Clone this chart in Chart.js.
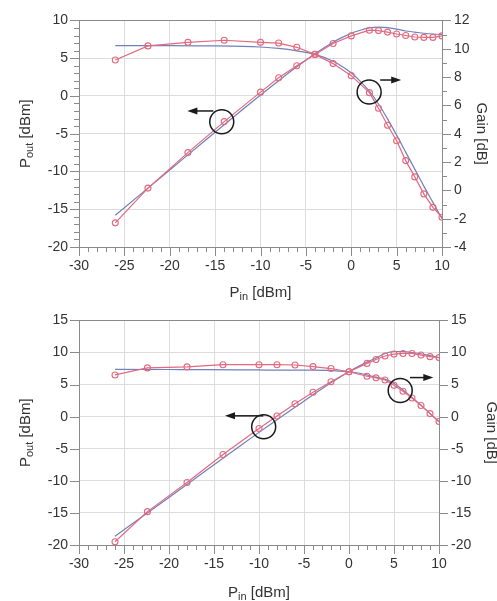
<!DOCTYPE html>
<html>
<head>
<meta charset="utf-8">
<script src="https://cdn.jsdelivr.net/npm/chart.js@4.4.0/dist/chart.umd.min.js"></script>
<style>
  html, body { margin: 0; padding: 0; background: #fff; }
  .panel { position: absolute; left: 0; width: 497px; }
  #top { top: 0; height: 300px; }
  #bot { top: 300px; height: 301px; }
</style>
</head>
<body>
<div class="panel" id="top"><canvas id="cTop"></canvas></div>
<div class="panel" id="bot"><canvas id="cBot"></canvas></div>
<script>
// ── Data ─────────────────────────────────────────────────────────────────────

const PIN_MEAS = [-26, -22.4, -18, -14, -10, -8, -6, -4, -2, 0, 2, 3, 4, 5, 6, 7, 8, 9, 10];
const PIN_SIM  = [-26, -20, -16, -12, -10, -8, -6, -4, -2, -1, 0, 1, 2, 3, 4, 5, 6, 7, 8, 9, 10];

// upper panel
const A_POUT_MEAS = [-16.8, -12.2, -7.5, -3.4, 0.5, 2.4, 4.0, 5.5, 6.95, 7.95, 8.7, 8.65, 8.45, 8.2, 8.0, 7.8, 7.75, 7.75, 7.95];
const A_GAIN_MEAS = [9.2, 10.2, 10.45, 10.6, 10.45, 10.4, 10.1, 9.6, 8.95, 8.1, 6.9, 5.8, 4.6, 3.5, 2.1, 0.95, -0.25, -1.2, -1.9];
const A_POUT_SIM  = [-15.8, -9.8, -5.8, -1.83, 0.12, 2.02, 3.85, 5.6, 7.12, 7.75, 8.3, 8.7, 9.0, 9.1, 9.05, 8.85, 8.6, 8.45, 8.3, 8.2, 8.15];
const A_GAIN_SIM  = [10.22, 10.22, 10.2, 10.17, 10.12, 10.02, 9.85, 9.6, 9.12, 8.75, 8.3, 7.7, 7.0, 6.1, 5.05, 3.9, 2.7, 1.5, 0.3, -0.85, -2.0];

// lower panel
const B_POUT_MEAS = [-19.5, -14.8, -10.25, -5.9, -1.85, 0.1, 2.0, 3.8, 5.45, 7.0, 8.3, 8.9, 9.45, 9.75, 9.85, 9.85, 9.6, 9.35, 9.2];
const B_GAIN_MEAS = [6.5, 7.6, 7.75, 8.1, 8.1, 8.1, 8.05, 7.8, 7.5, 7.0, 6.3, 6.05, 5.72, 4.9, 3.95, 2.9, 1.75, 0.48, -0.75];
const B_POUT_SIM  = [-18.62, -12.6, -8.5, -4.45, -2.45, -0.5, 1.45, 3.4, 5.3, 6.15, 7.0, 7.8, 8.5, 9.15, 9.85, 10.15, 10.15, 10.0, 9.8, 9.5, 9.2];
const B_GAIN_SIM  = [7.38, 7.35, 7.33, 7.3, 7.28, 7.25, 7.25, 7.25, 7.2, 7.1, 7.0, 6.8, 6.5, 6.15, 5.85, 5.15, 4.15, 3.0, 1.8, 0.5, -0.8];

// tick labels
const X_TICKS      = [-30, -25, -20, -15, -10, -5, 0, 5, 10];
const A_POUT_TICKS = [-20, -15, -10, -5, 0, 5, 10];
const A_GAIN_TICKS = [-4, -2, 0, 2, 4, 6, 8, 10, 12];
const B_TICKS      = [-20, -15, -10, -5, 0, 5, 10, 15];

// ── Styles ───────────────────────────────────────────────────────────────────

const RED   = '#e3697f';
const BLUE  = '#7180b8';
const GRID  = '#dcdcdc';
const AXIS  = '#8a8a8a';
const TEXT  = '#333';
const FONT  = "'Liberation Sans', Arial, sans-serif";
const MAJOR_LEN = 9;
const MINOR_LEN = 5;

// ── Plugin: frame, tick marks, axis titles, circle+arrow notes ───────────────

function drawParts(ctx, parts, x, y, rot) {
  ctx.save();
  ctx.translate(x, y);
  ctx.rotate(rot);
  let w = 0;
  for (const p of parts) { ctx.font = `${p.size}px ${FONT}`; w += ctx.measureText(p.t).width; }
  let cx = -w / 2;
  ctx.fillStyle = TEXT;
  ctx.textBaseline = 'alphabetic';
  ctx.textAlign = 'left';
  for (const p of parts) {
    ctx.font = `${p.size}px ${FONT}`;
    ctx.fillText(p.t, cx, p.dy || 0);
    cx += ctx.measureText(p.t).width;
  }
  ctx.restore();
}

const decor = {
  id: 'decor',
  afterDraw(chart, args, o) {
    const { ctx, chartArea: a, scales } = chart;
    ctx.save();
    ctx.strokeStyle = AXIS;
    ctx.lineWidth = 1;
    ctx.beginPath();
    ctx.moveTo(a.left, Math.round(a.top) + 0.5);
    ctx.lineTo(a.right, Math.round(a.top) + 0.5);
    ctx.stroke();

    for (const [id, minor, major, side] of o.marks) {
      const s = scales[id];
      for (let v = s.min; v <= s.max + 1e-9; v += minor) {
        const isMajor = Math.abs(v / major - Math.round(v / major)) < 1e-6;
        const len = isMajor ? MAJOR_LEN : MINOR_LEN;
        const p = Math.round(s.getPixelForValue(v)) + 0.5;
        ctx.beginPath();
        if (side === 'bottom') { ctx.moveTo(p, a.bottom); ctx.lineTo(p, a.bottom + len); }
        else if (side === 'left') { ctx.moveTo(a.left, p); ctx.lineTo(a.left - len, p); }
        else { ctx.moveTo(a.right, p); ctx.lineTo(a.right + len, p); }
        ctx.stroke();
      }
    }

    // circle + arrow annotations
    ctx.strokeStyle = '#1a1a1a';
    ctx.fillStyle = '#1a1a1a';
    ctx.lineWidth = 1.5;
    for (const n of o.notes) {
      const ys = scales[n.axis];
      const cx = scales.x.getPixelForValue(n.cx);
      const cy = ys.getPixelForValue(n.cy);
      ctx.beginPath();
      ctx.arc(cx, cy, 12, 0, Math.PI * 2);
      ctx.stroke();
      const x0 = scales.x.getPixelForValue(n.x0);
      const x1 = scales.x.getPixelForValue(n.x1);
      const ay = ys.getPixelForValue(n.ay);
      const dir = Math.sign(x1 - x0);
      ctx.beginPath();
      ctx.moveTo(x0, ay);
      ctx.lineTo(x1 - dir * 8, ay);
      ctx.stroke();
      ctx.beginPath();
      ctx.moveTo(x1, ay);
      ctx.lineTo(x1 - dir * 10, ay - 3.5);
      ctx.lineTo(x1 - dir * 10, ay + 3.5);
      ctx.closePath();
      ctx.fill();
    }
    ctx.restore();

    const midY = (a.top + a.bottom) / 2;
    const midX = (a.left + a.right) / 2;
    drawParts(ctx, [{ t: 'P', size: 15 }, { t: 'out', size: 11, dy: 3 }, { t: ' [dBm]', size: 15 }],
      o.yTitleX, midY, -Math.PI / 2);
    drawParts(ctx, [{ t: 'Gain [dB]', size: 15 }], o.y2TitleX, midY, Math.PI / 2);
    drawParts(ctx, [{ t: 'P', size: 15 }, { t: 'in', size: 11, dy: 3 }, { t: ' [dBm]', size: 15 }],
      midX, o.xTitleY, 0);
  },
};

// ── Chart builders ───────────────────────────────────────────────────────────

function pts(xs, ys) { return xs.map((x, i) => ({ x, y: ys[i] })); }

function measSet(ys, axis) {
  return {
    data: pts(PIN_MEAS, ys), yAxisID: axis, showLine: true,
    borderColor: RED, borderWidth: 1.2, tension: 0,
    pointRadius: 3, pointBorderWidth: 1.1, pointBorderColor: RED,
    pointBackgroundColor: 'rgba(255,255,255,0)', order: 1,
  };
}

function simSet(ys, axis) {
  return {
    data: pts(PIN_SIM, ys), yAxisID: axis, showLine: true,
    borderColor: BLUE, borderWidth: 1.2, pointRadius: 0,
    cubicInterpolationMode: 'monotone', order: 2,
  };
}

const tickFont = { family: FONT, size: 14 };
const setTicks = list => s => { s.ticks = list.map(v => ({ value: v })); };

function makeChart(id, cfg) {
  return new Chart(document.getElementById(id), {
    type: 'scatter',
    data: { datasets: cfg.datasets },
    plugins: [decor],
    options: {
      responsive: true,
      maintainAspectRatio: false,
      animation: false,
      events: [],
      layout: { padding: { top: cfg.top, left: 0, right: 0, bottom: 0 } },
      plugins: {
        legend: { display: false },
        tooltip: { enabled: false },
        decor: cfg.decor,
      },
      scales: {
        x: {
          type: 'linear', position: 'bottom', min: -30, max: 10,
          afterBuildTicks: setTicks(X_TICKS),
          ticks: { font: tickFont, color: TEXT, padding: 11, autoSkip: false, maxRotation: 0 },
          grid: { color: GRID, drawTicks: false },
          border: { color: AXIS },
          afterFit: s => { s.height = cfg.xH; },
        },
        y: {
          type: 'linear', position: 'left', min: cfg.y.min, max: cfg.y.max,
          afterBuildTicks: setTicks(cfg.y.ticks),
          ticks: { font: tickFont, color: TEXT, padding: 11, autoSkip: false },
          grid: { color: GRID, drawTicks: false },
          border: { color: AXIS },
          afterFit: s => { s.width = 79; },
        },
        y2: {
          type: 'linear', position: 'right', min: cfg.y2.min, max: cfg.y2.max,
          afterBuildTicks: setTicks(cfg.y2.ticks),
          ticks: { font: tickFont, color: TEXT, padding: 12, autoSkip: false },
          grid: { drawOnChartArea: false, drawTicks: false },
          border: { color: AXIS },
          afterFit: s => { s.width = cfg.y2W; },
        },
      },
    },
  });
}

makeChart('cTop', {
  top: 15, xH: 53, y2W: 55,
  y:  { min: -20, max: 10, ticks: A_POUT_TICKS },
  y2: { min: -4, max: 12, ticks: A_GAIN_TICKS },
  datasets: [
    measSet(A_POUT_MEAS, 'y'), measSet(A_GAIN_MEAS, 'y2'),
    simSet(A_POUT_SIM, 'y'), simSet(A_GAIN_SIM, 'y2'),
  ],
  decor: {
    marks: [['x', 1, 5, 'bottom'], ['y', 1, 5, 'left'], ['y2', 1, 2, 'right']],
    notes: [
      { axis: 'y',  cx: -14.27, cy: -3.42, x0: -15.19, x1: -18.06, ay: -1.99 },
      { axis: 'y2', cx: 1.97,   cy: 6.95,  x0: 3.19,   x1: 5.5,    ay: 7.79 },
    ],
    yTitleX: 30, y2TitleX: 477, xTitleY: 297,
  },
});

makeChart('cBot', {
  top: 16, xH: 56, y2W: 58,
  y:  { min: -20, max: 15, ticks: B_TICKS },
  y2: { min: -20, max: 15, ticks: B_TICKS },
  datasets: [
    measSet(B_POUT_MEAS, 'y'), measSet(B_GAIN_MEAS, 'y2'),
    simSet(B_POUT_SIM, 'y'), simSet(B_GAIN_SIM, 'y2'),
  ],
  decor: {
    marks: [['x', 1, 5, 'bottom'], ['y', 5, 5, 'left'], ['y2', 5, 5, 'right']],
    notes: [
      { axis: 'y',  cx: -9.48, cy: -1.58, x0: -9.52, x1: -13.78, ay: 0.13 },
      { axis: 'y2', cx: 5.69,  cy: 4.07,  x0: 6.78,  x1: 9.37,   ay: 6.09 },
    ],
    yTitleX: 30, y2TitleX: 487, xTitleY: 297,
  },
});
</script>
</body>
</html>
